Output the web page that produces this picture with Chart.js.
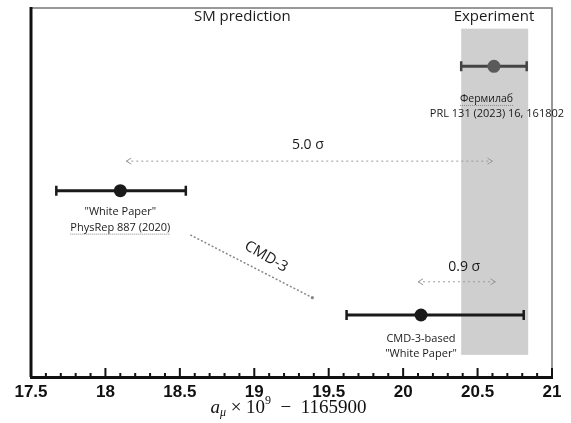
<!DOCTYPE html>
<html>
<head>
<meta charset="utf-8">
<script src="https://cdn.jsdelivr.net/npm/chart.js@4"></script>
<style>
  html, body { margin: 0; padding: 0; background: #fff; }
  #wrap { width: 571px; height: 423px; }
</style>
</head>
<body>
<div id="wrap"><canvas id="chart"></canvas></div>
<script>
// measurements (a_mu x 10^9 - 1165900)
const names = ['Фермилаб', 'White Paper', 'CMD-3-based'];
const centers = [20.61, 18.10, 20.12];
const lows = [20.39, 17.67, 19.62];
const highs = [20.83, 18.54, 20.81];
const rows = [84.2, 50.5, 16.8];
const pointColors = ['#5a5a5a', '#1a1a1a', '#1a1a1a'];

// experiment band
const bandX = [20.39, 20.84];
const bandY = [6.0, 94.4];

// tension arrows and the CMD-3 shift line
const arrow5 = [{ x: 18.14, y: 58.5 }, { x: 20.60, y: 58.5 }];
const arrow09 = [{ x: 20.10, y: 25.8 }, { x: 20.62, y: 25.8 }];
const cmdLine = [{ x: 18.57, y: 38.5 }, { x: 19.39, y: 21.5 }];

const xTicks = [17.5, 18, 18.5, 19, 19.5, 20, 20.5, 21];
const minorStep = 0.1;

const labels = [
  { t: 'SM prediction', x: 18.92, y: 97.6, size: 15 },
  { t: 'Experiment', x: 20.61, y: 97.6, size: 15 },
  { t: 'Фермилаб', x: 20.56, y: 75.3, size: 10.5, under: true },
  { t: 'PRL 131 (2023) 16, 161802', x: 20.63, y: 71.2, size: 11 },
  { t: '5.0 σ', x: 19.36, y: 62.8, size: 14 },
  { t: '0.9 σ', x: 20.41, y: 29.9, size: 14 },
  { t: '"White Paper"', x: 18.10, y: 44.8, size: 11 },
  { t: 'PhysRep 887 (2020)', x: 18.10, y: 40.5, size: 11, under: true },
  { t: 'CMD-3', x: 19.08, y: 32.6, size: 15, rot: 30 },
  { t: 'CMD-3-based', x: 20.12, y: 10.3, size: 11 },
  { t: '"White Paper"', x: 20.12, y: 6.25, size: 11 }
];

const textFont = '"Open Sans", "Noto Sans", sans-serif';

const decor = {
  id: 'decor',
  beforeDatasetsDraw(chart) {
    const { ctx, chartArea: a, scales: { x, y } } = chart;
    ctx.save();
    ctx.fillStyle = '#cfcfcf';
    const bx0 = x.getPixelForValue(bandX[0]), bx1 = x.getPixelForValue(bandX[1]);
    const by0 = y.getPixelForValue(bandY[1]), by1 = y.getPixelForValue(bandY[0]);
    ctx.fillRect(bx0, by0, bx1 - bx0, by1 - by0);
    // frame
    ctx.strokeStyle = '#777';
    ctx.lineWidth = 1.5;
    ctx.beginPath();
    ctx.moveTo(a.left, a.top);
    ctx.lineTo(a.right, a.top);
    ctx.lineTo(a.right, a.bottom);
    ctx.stroke();
    ctx.strokeStyle = '#111';
    ctx.lineWidth = 3;
    ctx.beginPath();
    ctx.moveTo(a.left, a.top - 1);
    ctx.lineTo(a.left, a.bottom);
    ctx.stroke();
    ctx.restore();
  },
  afterDatasetsDraw(chart) {
    const { ctx, scales: { x, y } } = chart;
    ctx.save();
    // arrowheads
    ctx.strokeStyle = '#999';
    ctx.lineWidth = 1;
    [arrow5, arrow09].forEach(ar => {
      const yy = y.getPixelForValue(ar[0].y);
      const xl = x.getPixelForValue(ar[0].x), xr = x.getPixelForValue(ar[1].x);
      ctx.beginPath();
      ctx.moveTo(xl + 5, yy - 3); ctx.lineTo(xl, yy); ctx.lineTo(xl + 5, yy + 3);
      ctx.moveTo(xr - 5, yy - 3); ctx.lineTo(xr, yy); ctx.lineTo(xr - 5, yy + 3);
      ctx.stroke();
    });
    const ex = x.getPixelForValue(cmdLine[1].x), ey = y.getPixelForValue(cmdLine[1].y);
    ctx.fillStyle = '#888';
    ctx.beginPath(); ctx.arc(ex, ey, 1.6, 0, Math.PI * 2); ctx.fill();

    // error bars
    centers.forEach((c, i) => {
      const yy = y.getPixelForValue(rows[i]);
      const x0 = x.getPixelForValue(lows[i]), x1 = x.getPixelForValue(highs[i]);
      ctx.strokeStyle = i === 0 ? '#444' : '#1a1a1a';
      ctx.lineWidth = 3;
      ctx.beginPath();
      ctx.moveTo(x0, yy); ctx.lineTo(x1, yy);
      ctx.stroke();
      ctx.lineWidth = 2.5;
      ctx.beginPath();
      ctx.moveTo(x0, yy - 5); ctx.lineTo(x0, yy + 5);
      ctx.moveTo(x1, yy - 5); ctx.lineTo(x1, yy + 5);
      ctx.stroke();
      ctx.fillStyle = pointColors[i];
      ctx.beginPath();
      ctx.arc(x.getPixelForValue(c), yy, 6.5, 0, Math.PI * 2);
      ctx.fill();
    });

    // labels
    ctx.fillStyle = '#1a1a1a';
    ctx.textAlign = 'center';
    ctx.textBaseline = 'middle';
    labels.forEach(l => {
      const lx = x.getPixelForValue(l.x), ly = y.getPixelForValue(l.y);
      ctx.font = l.size + 'px ' + textFont;
      ctx.save();
      ctx.translate(lx, ly);
      if (l.rot) ctx.rotate(l.rot * Math.PI / 180);
      ctx.fillText(l.t, 0, 0);
      if (l.under) {
        const w = ctx.measureText(l.t).width;
        ctx.strokeStyle = '#888';
        ctx.lineWidth = 1;
        ctx.setLineDash([1, 1]);
        ctx.beginPath();
        ctx.moveTo(-w / 2, l.size * 0.6); ctx.lineTo(w / 2, l.size * 0.6);
        ctx.stroke();
      }
      ctx.restore();
    });
    ctx.restore();
  },
  afterDraw(chart) {
    const { ctx, chartArea: a, scales: { x } } = chart;
    ctx.save();
    // inward ticks on the bottom axis
    ctx.strokeStyle = '#111';
    ctx.lineWidth = 2;
    ctx.setLineDash([]);
    ctx.beginPath();
    const n = Math.round((x.max - x.min) / minorStep);
    for (let k = 0; k <= n; k++) {
      const tx = x.getPixelForValue(x.min + k * minorStep);
      const len = (k % 5 === 0) ? 9 : 4;
      ctx.moveTo(tx, x.top);
      ctx.lineTo(tx, x.top - len);
    }
    ctx.stroke();

    // axis title: a_mu x 10^9 - 1165900
    const cx = (a.left + a.right) / 2 - 3;
    const ty = 408;
    const parts = [
      { t: 'a', f: 'italic 19px "Liberation Serif", serif', dy: 0 },
      { t: 'μ', f: 'italic 12px "Liberation Serif", serif', dy: 5 },
      { t: ' × 10', f: '19px "Liberation Serif", serif', dy: 0 },
      { t: '9', f: '12px "Liberation Serif", serif', dy: -7 },
      { t: '  −  1165900', f: '19px "Liberation Serif", serif', dy: 0 }
    ];
    let total = 0;
    parts.forEach(p => { ctx.font = p.f; p.w = ctx.measureText(p.t).width; total += p.w; });
    let tx0 = cx - total / 2;
    ctx.textAlign = 'left';
    ctx.textBaseline = 'middle';
    ctx.fillStyle = '#111';
    parts.forEach(p => { ctx.font = p.f; ctx.fillText(p.t, tx0, ty + p.dy); tx0 += p.w; });
    ctx.restore();
  }
};

const dashed = { borderColor: '#9a9a9a', borderWidth: 1, borderDash: [2, 3], pointRadius: 0, showLine: true, fill: false };

new Chart(document.getElementById('chart'), {
  type: 'scatter',
  data: {
    datasets: [
      Object.assign({ data: arrow5 }, dashed),
      Object.assign({ data: arrow09 }, dashed),
      Object.assign({ data: cmdLine }, dashed, { borderColor: '#888', borderWidth: 1.5, borderDash: [2, 2] })
    ]
  },
  plugins: [decor],
  options: {
    responsive: true,
    maintainAspectRatio: false,
    animation: false,
    layout: { padding: { left: 31, right: 19, top: 8, bottom: 0 } },
    plugins: { legend: { display: false }, tooltip: { enabled: false } },
    scales: {
      x: {
        type: 'linear',
        min: 17.5,
        max: 21,
        afterBuildTicks: s => { s.ticks = xTicks.map(v => ({ value: v })); },
        afterFit: s => { s.height = 46; },
        grid: { display: false, drawTicks: false },
        border: { display: true, color: '#111', width: 3 },
        ticks: {
          padding: 5,
          color: '#111',
          font: { family: '"Liberation Sans", Arial, sans-serif', size: 17, weight: 'bold' },
          callback: v => String(v)
        }
      },
      y: { type: 'linear', min: 0, max: 100, display: false }
    }
  }
});
</script>
</body>
</html>
